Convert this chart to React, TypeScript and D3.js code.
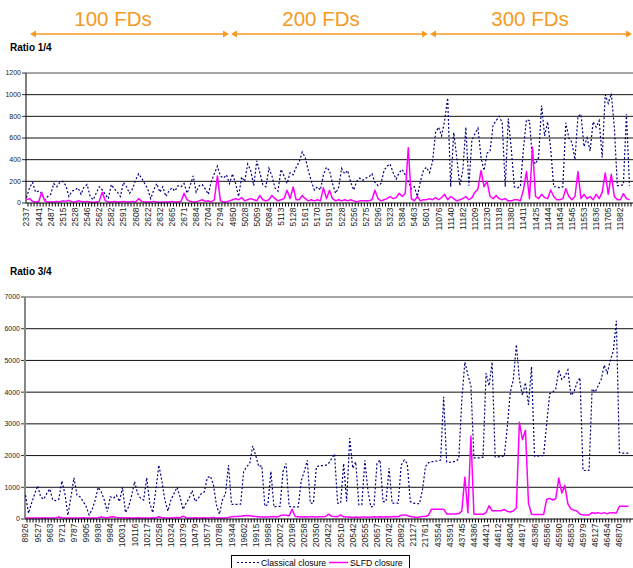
import React from "react";
import * as d3 from "d3";

const GROUPS = ["100 FDs", "200 FDs", "300 FDs"];
const GROUP_SPANS: [number, number][] = [[30, 229], [231, 428], [430, 632]];
const GROUP_TEXT_X = [113, 321, 530];

const TOP_TICKS = [0, 200, 400, 600, 800, 1000, 1200];
const BOT_TICKS = [0, 1000, 2000, 3000, 4000, 5000, 6000, 7000];

const TOP_LABELS = ["2337","2441","2487","2515","2528","2546","2562","2582","2591","2608","2622","2632","2665","2671","2684","2704","2794","4950","5028","5059","5084","5113","5128","5161","5170","5191","5228","5256","5275","5296","5323","5384","5463","5601","11076","11140","11182","11209","11230","11318","11380","11411","11425","11444","11454","11545","11553","11636","11705","11982"];
const BOT_LABELS = ["8926","9527","9663","9721","9787","9905","9938","9984","10031","10116","10217","10258","10324","10379","10479","10577","10788","19344","19602","19915","19958","20072","20198","20258","20350","20422","20510","20542","20555","20657","20742","20892","21127","21761","43554","43591","43745","44386","44421","44612","44804","44917","45386","45586","45590","45853","45979","46127","46454","46870"];

const TOP_CLASSICAL = [
  50,140,190,100, 110,90,30,60, 80,180,150,190, 200,160,60,110, 120,140,80,150,
  170,60,30,90, 150,120,80,40, 170,130,100,60, 190,150,90,130, 210,270,230,180,
  130,40,120,180, 100,150,60,110, 140,110,160,150, 180,90,160,250, 100,160,170,130,
  80,200,270,340, 250,230,260,180, 270,180,60,240, 200,360,300,160, 390,280,170,150,
  320,250,140,110, 310,250,180,280, 260,330,380,470, 420,300,200,120, 150,120,260,330,
  300,180,90,140, 320,270,300,190, 120,200,230,210, 230,240,270,190, 160,180,300,340,
  360,280,220,280, 310,260,200,130, 150,60,200,300, 330,280,380,650, 700,620,760,970,
  150,650,420,160, 300,700,160,580, 640,690,420,300, 460,480,720,760, 800,740,150,780,
  500,150,140,150, 500,770,760,400, 360,420,900,620, 750,500,150,150, 140,150,740,600,
  560,400,800,820, 520,600,480,750, 700,760,420,1000, 920,1010,700,160, 160,170,820,160
];
const TOP_SLFD = [
  30,40,15,10, 10,100,20,10, 10,10,15,10, 20,15,25,10, 10,20,15,10,
  15,10,5,10, 15,100,20,10, 10,15,10,10, 15,10,10,15, 10,40,15,10,
  10,10,15,10, 5,10,10,10, 15,10,10,15, 90,30,15,10, 10,20,30,15,
  20,10,30,250, 20,10,10,20, 30,40,30,50, 20,30,40,30, 20,70,30,20,
  30,70,40,20, 30,40,117,40, 148,30,30,70, 40,20,30,20, 30,20,140,40,
  117,40,20,30, 20,30,20,30, 20,10,20,20, 20,20,30,117, 40,20,30,40,
  60,40,50,90, 60,90,510,40, 20,60,20,30, 30,40,30,50, 30,50,80,30,
  60,40,20,30, 40,60,30,50, 100,130,300,150, 200,60,40,70, 40,30,40,20,
  20,30,30,20, 120,290,40,514, 60,40,80,50, 40,120,60,30, 30,40,132,60,
  30,60,290,40, 80,40,60,30, 80,40,100,277, 80,265,60,30, 30,86,40,30
];
const BOT_CLASSICAL = [
  750,180,500,780, 1050,700,620,800, 950,600,580,620, 1200,800,120,700, 1300,750,700,560,
  400,130,300,600, 1000,850,600,230, 700,650,750,550, 1000,200,380,720, 1180,800,650,600,
  1300,500,200,900, 1700,1200,600,250, 600,800,1000,700, 300,500,650,900, 550,650,800,850,
  1300,1350,1100,450, 150,600,800,1700, 460,460,460,470, 1500,1650,1750,2300, 2000,1650,1680,400,
  460,1500,380,400, 400,1500,1750,400, 380,380,380,1200, 1500,1850,500,500, 1650,1680,1680,1690,
  1750,1900,2050,500, 500,1750,550,2550, 1600,1800,450,450, 1850,900,380,400, 1750,1860,550,550,
  1600,500,500,500, 1700,1860,1750,550, 500,490,480,900, 1650,1780,1800,1820, 1830,1860,3850,1800,
  1790,1800,1820,1900, 3750,4950,4550,4200, 1930,1930,1930,1950, 4600,4200,4950,1960, 1960,1970,1980,2900,
  4000,4400,5500,4400, 3900,4300,3600,4800, 1980,1980,2000,2000, 3000,3950,4000,4100, 4700,4400,4500,4700,
  3900,4000,4300,4450, 1530,1530,1540,4100, 4000,4200,4400,4850, 4600,5000,5300,6250, 2100,2080,2080,2080
];
const BOT_SLFD = [
  30,35,30,30, 30,35,40,30, 35,30,40,60, 40,30,35,30, 30,35,30,40,
  35,30,30,35, 40,60,50,40, 60,70,50,40, 40,35,40,30, 30,40,35,30,
  35,30,40,35, 70,50,40,35, 30,40,50,40, 90,40,35,30, 40,35,30,40,
  35,40,50,35, 30,35,40,50, 70,80,80,90, 100,110,100,90, 80,70,60,60,
  60,70,80,60, 100,130,120,100, 305,80,70,60, 70,60,70,70, 60,70,70,80,
  150,90,80,70, 130,70,60,60, 50,60,50,60, 60,55,60,70, 60,70,65,70,
  60,70,80,70, 120,130,110,80, 60,50,60,80, 80,120,310,310, 310,310,310,160,
  160,160,160,170, 250,1320,200,2620, 150,150,150,150, 200,420,260,260, 260,260,300,240,
  220,250,350,3050, 2500,2800,500,150, 140,140,140,140, 620,650,600,640, 1290,820,1060,480,
  320,280,250,150, 130,130,130,200, 180,200,170,200, 160,200,200,190, 400,400,400,400
];

const FONT = "'Liberation Sans', Arial, Helvetica, sans-serif";
const ORANGE = "#F59A23";
const NAVY = "#000080";
const MAGENTA = "#FF00FF";

type PanelProps = {
  title: string;
  titleY: number;
  x0: number;
  yTopPx: number;
  yZeroPx: number;
  maxV: number;
  ticks: number[];
  labels: string[];
  classical: number[];
  slfd: number[];
  axisColor: string;
  axisWidth: number;
};

function Panel(p: PanelProps) {
  const n = p.classical.length;
  const step = 3.03;
  const x = d3.scaleLinear().domain([0, n - 1]).range([p.x0 + 0.5, p.x0 + 0.5 + (n - 1) * step]);
  const y = d3.scaleLinear().domain([0, p.maxV]).range([p.yZeroPx, p.yTopPx]);
  const line = d3.line<number>().x((_, i) => x(i)).y((d) => y(d));
  const right = 633;
  const perLabel = Math.round(n / p.labels.length);
  return (
    <g>
      <text x={10} y={p.titleY} fontFamily={FONT} fontSize={10} fontWeight="bold" fill="#000">{p.title}</text>
      {p.ticks.map((t) => (
        <g key={t}>
          {t > 0 && t < p.maxV && (
            <line x1={p.x0} x2={right} y1={y(t)} y2={y(t)} stroke="#111" strokeWidth={1} />
          )}
          <line x1={p.x0 - 4} x2={p.x0} y1={y(t)} y2={y(t)} stroke="#333" strokeWidth={1} />
          <text x={p.x0 - 5} y={y(t)} dy="0.35em" textAnchor="end" fontFamily={FONT} fontSize={7} fill="#222">{t}</text>
        </g>
      ))}
      <line x1={p.x0} x2={right} y1={p.yTopPx} y2={p.yTopPx} stroke="#888" strokeWidth={1.5} />
      <line x1={p.x0} x2={p.x0} y1={p.yTopPx} y2={p.yZeroPx} stroke={p.axisColor} strokeWidth={p.axisWidth} />
      <path d={line(p.classical) || ""} fill="none" stroke={NAVY} strokeWidth={1.2} strokeDasharray="2,2" />
      <path d={line(p.slfd) || ""} fill="none" stroke={MAGENTA} strokeWidth={1.5} strokeLinejoin="round" />
      <line x1={p.x0} x2={right} y1={p.yZeroPx} y2={p.yZeroPx} stroke="#000" strokeWidth={1.2} />
      {p.classical.map((_, i) => (
        <line key={i} x1={x(i) + 1.5} x2={x(i) + 1.5} y1={p.yZeroPx} y2={p.yZeroPx + 3.5} stroke="#000" strokeWidth={1} />
      ))}
      {p.labels.map((lab, k) => {
        const lx = x(k * perLabel);
        const ly = p.yZeroPx + 4.5;
        return (
          <text key={lab + k} transform={`translate(${lx},${ly}) rotate(-90)`} dy="0.35em" textAnchor="end" fontFamily={FONT} fontSize={8.5} fill="#222">{lab}</text>
        );
      })}
    </g>
  );
}

export default function App() {
  const arrowY = 34;
  return (
    <svg width={633} height={568} style={{ position: "absolute", left: 0, top: 0, background: "#fff" }}>
      <rect width={633} height={568} fill="#fff" />
      {GROUPS.map((g, i) => {
        const [a, b] = GROUP_SPANS[i];
        return (
          <g key={g}>
            <text x={GROUP_TEXT_X[i]} y={26} textAnchor="middle" fontFamily={FONT} fontSize={20.5} fill={ORANGE}>{g}</text>
            <line x1={a + 4} x2={b - 4} y1={arrowY} y2={arrowY} stroke={ORANGE} strokeWidth={1.6} />
            <path d={`M${a},${arrowY} L${a + 6},${arrowY - 3.5} L${a + 6},${arrowY + 3.5} Z`} fill={ORANGE} />
            <path d={`M${b},${arrowY} L${b - 6},${arrowY - 3.5} L${b - 6},${arrowY + 3.5} Z`} fill={ORANGE} />
          </g>
        );
      })}
      <Panel title="Ratio 1/4" titleY={51} x0={26} yTopPx={73} yZeroPx={203} maxV={1200}
        ticks={TOP_TICKS} labels={TOP_LABELS} classical={TOP_CLASSICAL} slfd={TOP_SLFD}
        axisColor="#000" axisWidth={1} />
      <Panel title="Ratio 3/4" titleY={275} x0={25} yTopPx={297} yZeroPx={519} maxV={7000}
        ticks={BOT_TICKS} labels={BOT_LABELS} classical={BOT_CLASSICAL} slfd={BOT_SLFD}
        axisColor="#888" axisWidth={2} />
      <g>
        <rect x={231.5} y={555.5} width={178} height={20} fill="#fff" stroke="#000" strokeWidth={1} />
        <line x1={237} x2={259} y1={562.5} y2={562.5} stroke={NAVY} strokeWidth={1.2} strokeDasharray="2,2" />
        <text x={261} y={565.5} fontFamily={FONT} fontSize={8.7} fill="#000">Classical closure</text>
        <line x1={329} x2={348} y1={562.5} y2={562.5} stroke={MAGENTA} strokeWidth={1.5} />
        <text x={350} y={565.5} fontFamily={FONT} fontSize={8.7} fill="#000">SLFD closure</text>
      </g>
    </svg>
  );
}
